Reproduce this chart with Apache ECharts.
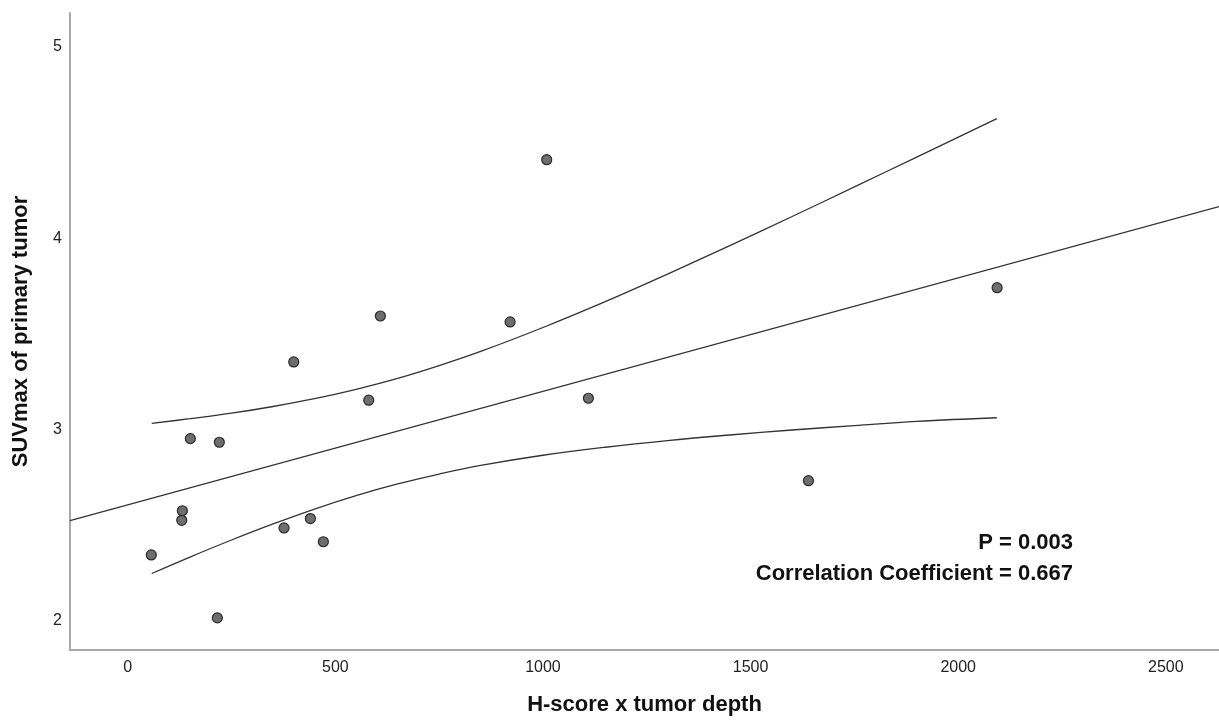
<!DOCTYPE html>
<html>
<head>
<meta charset="utf-8">
<script src="https://cdn.jsdelivr.net/npm/echarts@6/dist/echarts.min.js"></script>
<style>
html,body{margin:0;padding:0;background:#fff;}
#chart{width:1219px;height:722px;}
</style>
</head>
<body>
<div id="chart"></div>
<script>
// Observed points: H-score x tumor depth vs SUVmax of primary tumor
const hScoreDepth = [56.8, 130.1, 131.5, 150.8, 215.8, 220.6, 376.4, 399.8, 439.8, 471.1, 580.4, 608.4, 920.8, 1009, 1109.4, 1639.3, 2093.7];
const suvMax = [2.345, 2.526, 2.576, 2.953, 2.016, 2.934, 2.486, 3.354, 2.535, 2.414, 3.154, 3.594, 3.563, 4.411, 3.164, 2.733, 3.742];

// Fit line
const fitX = [-139, 2628];
const fitY = [2.524, 4.166];

// Confidence band curves
const ciX = [57.8, 150, 250, 350, 450, 550, 650, 750, 850, 1000, 1150, 1300, 1450, 1600, 1750, 1900, 2093];
const ciUpper = [3.033, 3.057, 3.086, 3.121, 3.162, 3.211, 3.268, 3.335, 3.409, 3.534, 3.669, 3.813, 3.962, 4.114, 4.269, 4.425, 4.626];
const ciLower = [2.248, 2.334, 2.423, 2.507, 2.585, 2.655, 2.716, 2.768, 2.813, 2.866, 2.908, 2.943, 2.972, 2.998, 3.021, 3.043, 3.062];

// Tick labels
const xTicks = [0, 500, 1000, 1500, 2000, 2500];
const yTicks = [2, 3, 4, 5];

const annotations = ['P = 0.003', 'Correlation Coefficient = 0.667'];

const zip = (a, b) => a.map((v, i) => [v, b[i]]);

const chart = echarts.init(document.getElementById('chart'), null, {renderer: 'canvas'});
const lineStyle = {color: '#333333', width: 1.3};
const boldText = {fontFamily: 'Liberation Sans', fontWeight: 'bold', fontSize: 22, color: '#111'};
chart.setOption({
  animation: false,
  backgroundColor: '#ffffff',
  grid: {left: 70, right: 0, top: 13, bottom: 72, containLabel: false},
  xAxis: {
    type: 'value',
    min: -139, max: 2628,
    name: 'H-score x tumor depth',
    nameLocation: 'middle',
    nameGap: 44,
    nameTextStyle: boldText,
    axisLine: {show: true, onZero: false, lineStyle: {color: '#a8a8a8', width: 2}},
    axisTick: {show: false},
    splitLine: {show: false},
    axisLabel: {customValues: xTicks, formatter: v => String(v), margin: 10, fontFamily: 'Liberation Sans', fontSize: 16, color: '#222'}
  },
  yAxis: {
    type: 'value',
    min: 1.848, max: 5.178,
    name: 'SUVmax of primary tumor',
    nameLocation: 'middle',
    nameGap: 38,
    nameRotate: 90,
    nameTextStyle: boldText,
    axisLine: {show: true, onZero: false, lineStyle: {color: '#a8a8a8', width: 2}},
    axisTick: {show: false},
    splitLine: {show: false},
    axisLabel: {customValues: yTicks, formatter: v => String(v), margin: 8, fontFamily: 'Liberation Sans', fontSize: 16, color: '#222'}
  },
  series: [
    {type: 'line', data: zip(fitX, fitY), showSymbol: false, lineStyle: lineStyle, silent: true, z: 2},
    {type: 'line', data: zip(ciX, ciUpper), showSymbol: false, smooth: 0.4, lineStyle: lineStyle, silent: true, z: 2},
    {type: 'line', data: zip(ciX, ciLower), showSymbol: false, smooth: 0.4, lineStyle: lineStyle, silent: true, z: 2},
    {type: 'scatter', data: zip(hScoreDepth, suvMax), symbol: 'circle', symbolSize: 10,
     itemStyle: {color: '#6e6e6e', borderColor: '#2a2a2a', borderWidth: 1.2, opacity: 1}, z: 3}
  ],
  graphic: [
    {type: 'text', right: 146, top: 532, style: {text: annotations[0], fontFamily: 'Liberation Sans', fontWeight: 'bold', fontSize: 22, fill: '#111', textAlign: 'right'}},
    {type: 'text', right: 146, top: 563, style: {text: annotations[1], fontFamily: 'Liberation Sans', fontWeight: 'bold', fontSize: 22, fill: '#111', textAlign: 'right'}}
  ]
});
</script>
</body>
</html>
